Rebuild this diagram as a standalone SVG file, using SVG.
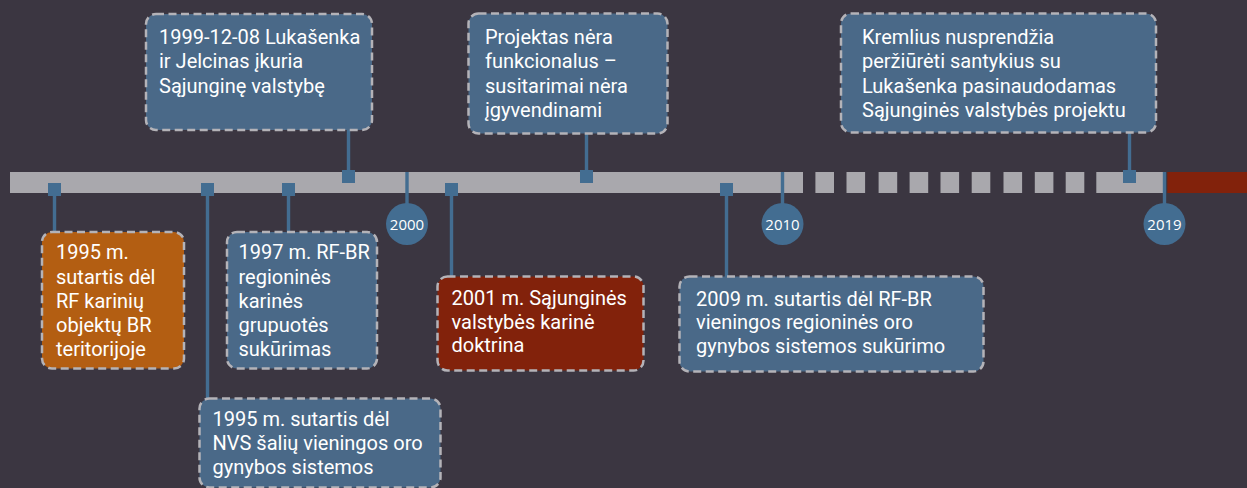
<svg xmlns="http://www.w3.org/2000/svg" width="1247" height="488" viewBox="0 0 1247 488">
<style>
.bg{fill:#3b3641}
.bar{fill:#a9a8ad}
.now{fill:#82220b}
.ln{stroke:#436d91;stroke-width:3.4;fill:none}
.sq{fill:#436d91}
.yr{fill:#436d91}
.yt{font-family:"Open Sans","Liberation Sans",sans-serif;font-size:15px;fill:#ffffff;text-anchor:middle}
.box{stroke:#b4b3b8;stroke-width:2.5;stroke-dasharray:8 4.5}
.blue{fill:#4a6988}
.orange{fill:#b35e12}
.red{fill:#82220b}
.t{font-family:Roboto,"Liberation Sans",sans-serif;font-size:20px;fill:#ffffff}
</style>
<rect class="bg" x="0" y="0" width="1247" height="488"/>
<g id="timeline">
<rect class="bar" x="10" y="172" width="793" height="21"/>
<rect class="bar" x="815.4" y="172" width="18.6" height="21"/>
<rect class="bar" x="846.5" y="172" width="18.6" height="21"/>
<rect class="bar" x="878.6" y="172" width="18.6" height="21"/>
<rect class="bar" x="909.6" y="172" width="18.6" height="21"/>
<rect class="bar" x="940.5" y="172" width="18.6" height="21"/>
<rect class="bar" x="971.7" y="172" width="18.6" height="21"/>
<rect class="bar" x="1003.5" y="172" width="18.6" height="21"/>
<rect class="bar" x="1034.8" y="172" width="18.6" height="21"/>
<rect class="bar" x="1065.7" y="172" width="18.6" height="21"/>
<rect class="bar" x="1096.3" y="172" width="66.7" height="21"/>
<rect class="now" x="1167.3" y="172" width="79.7" height="21"/>
</g>
<g id="connectors">
<line class="ln" x1="54.5" y1="196" x2="54.5" y2="233"/>
<line class="ln" x1="207.5" y1="196" x2="207.5" y2="399"/>
<line class="ln" x1="288.5" y1="196" x2="288.5" y2="233"/>
<line class="ln" x1="451.5" y1="196" x2="451.5" y2="277"/>
<line class="ln" x1="726.5" y1="196" x2="726.5" y2="277"/>
<line class="ln" x1="348.5" y1="129" x2="348.5" y2="170"/>
<line class="ln" x1="586.5" y1="132" x2="586.5" y2="170"/>
<line class="ln" x1="1129.5" y1="132" x2="1129.5" y2="170"/>
<line class="ln" x1="407" y1="172" x2="407" y2="205"/>
<line class="ln" x1="782.5" y1="172" x2="782.5" y2="205"/>
<line class="ln" x1="1164.5" y1="172" x2="1164.5" y2="205"/>
<rect class="sq" x="48" y="183" width="13" height="13"/>
<rect class="sq" x="201" y="183" width="13" height="13"/>
<rect class="sq" x="282" y="183" width="13" height="13"/>
<rect class="sq" x="445" y="183" width="13" height="13"/>
<rect class="sq" x="720" y="183" width="13" height="13"/>
<rect class="sq" x="342" y="170" width="13" height="13"/>
<rect class="sq" x="580" y="170" width="13" height="13"/>
<rect class="sq" x="1123" y="170" width="13" height="13"/>
</g>
<g id="y2000"><circle class="yr" cx="407" cy="224" r="21"/><text class="yt" x="407" y="229.5">2000</text></g>
<g id="y2010"><circle class="yr" cx="782.5" cy="224" r="21"/><text class="yt" x="782.5" y="229.5">2010</text></g>
<g id="y2019"><circle class="yr" cx="1164.5" cy="224" r="21"/><text class="yt" x="1164.5" y="229.5">2019</text></g>
<g id="n1999">
<rect class="box blue" x="146" y="14" width="226" height="116" rx="10"/>
<text class="t"><tspan x="159" y="44">1999-12-08 Lukašenka</tspan><tspan x="159" y="68.3">ir Jelcinas įkuria</tspan><tspan x="159" y="92.7">Sąjunginę valstybę</tspan></text>
</g>
<g id="nprojektas">
<rect class="box blue" x="468.5" y="13.5" width="199" height="120" rx="10"/>
<text class="t"><tspan x="485" y="44">Projektas nėra</tspan><tspan x="485" y="68.3">funkcionalus –</tspan><tspan x="485" y="92.7">susitarimai nėra</tspan><tspan x="485" y="117">įgyvendinami</tspan></text>
</g>
<g id="nkremlius">
<rect class="box blue" x="841" y="13.5" width="315" height="119" rx="10"/>
<text class="t"><tspan x="862" y="44">Kremlius nusprendžia</tspan><tspan x="862" y="68.3">peržiūrėti santykius su</tspan><tspan x="862" y="92.7">Lukašenka pasinaudodamas</tspan><tspan x="862" y="117">Sąjunginės valstybės projektu</tspan></text>
</g>
<g id="n1995a">
<rect class="box orange" x="42" y="232" width="142" height="136.5" rx="10"/>
<text class="t"><tspan x="56" y="259.3">1995 m.</tspan><tspan x="56" y="283.5">sutartis dėl</tspan><tspan x="56" y="307.7">RF karinių</tspan><tspan x="56" y="331.8">objektų BR</tspan><tspan x="56" y="356">teritorijoje</tspan></text>
</g>
<g id="n1997">
<rect class="box blue" x="227" y="232" width="150" height="136.5" rx="10"/>
<text class="t"><tspan x="238.5" y="259.3">1997 m. RF-BR</tspan><tspan x="238.5" y="283.5">regioninės</tspan><tspan x="238.5" y="307.7">karinės</tspan><tspan x="238.5" y="331.8">grupuotės</tspan><tspan x="238.5" y="356">sukūrimas</tspan></text>
</g>
<g id="n1995b">
<rect class="box blue" x="199.5" y="398.5" width="241" height="89" rx="10"/>
<text class="t"><tspan x="212.5" y="426">1995 m. sutartis dėl</tspan><tspan x="212.5" y="450">NVS šalių vieningos oro</tspan><tspan x="212.5" y="474">gynybos sistemos</tspan></text>
</g>
<g id="n2001">
<rect class="box red" x="437.5" y="276.5" width="206" height="94" rx="10"/>
<text class="t"><tspan x="451.5" y="305">2001 m. Sąjunginės</tspan><tspan x="451.5" y="328.5">valstybės karinė</tspan><tspan x="451.5" y="352">doktrina</tspan></text>
</g>
<g id="n2009">
<rect class="box blue" x="679.5" y="276.5" width="304" height="95" rx="10"/>
<text class="t"><tspan x="696" y="305.5">2009 m. sutartis dėl RF-BR</tspan><tspan x="696" y="329">vieningos regioninės oro</tspan><tspan x="696" y="352.5">gynybos sistemos sukūrimo</tspan></text>
</g>
</svg>
